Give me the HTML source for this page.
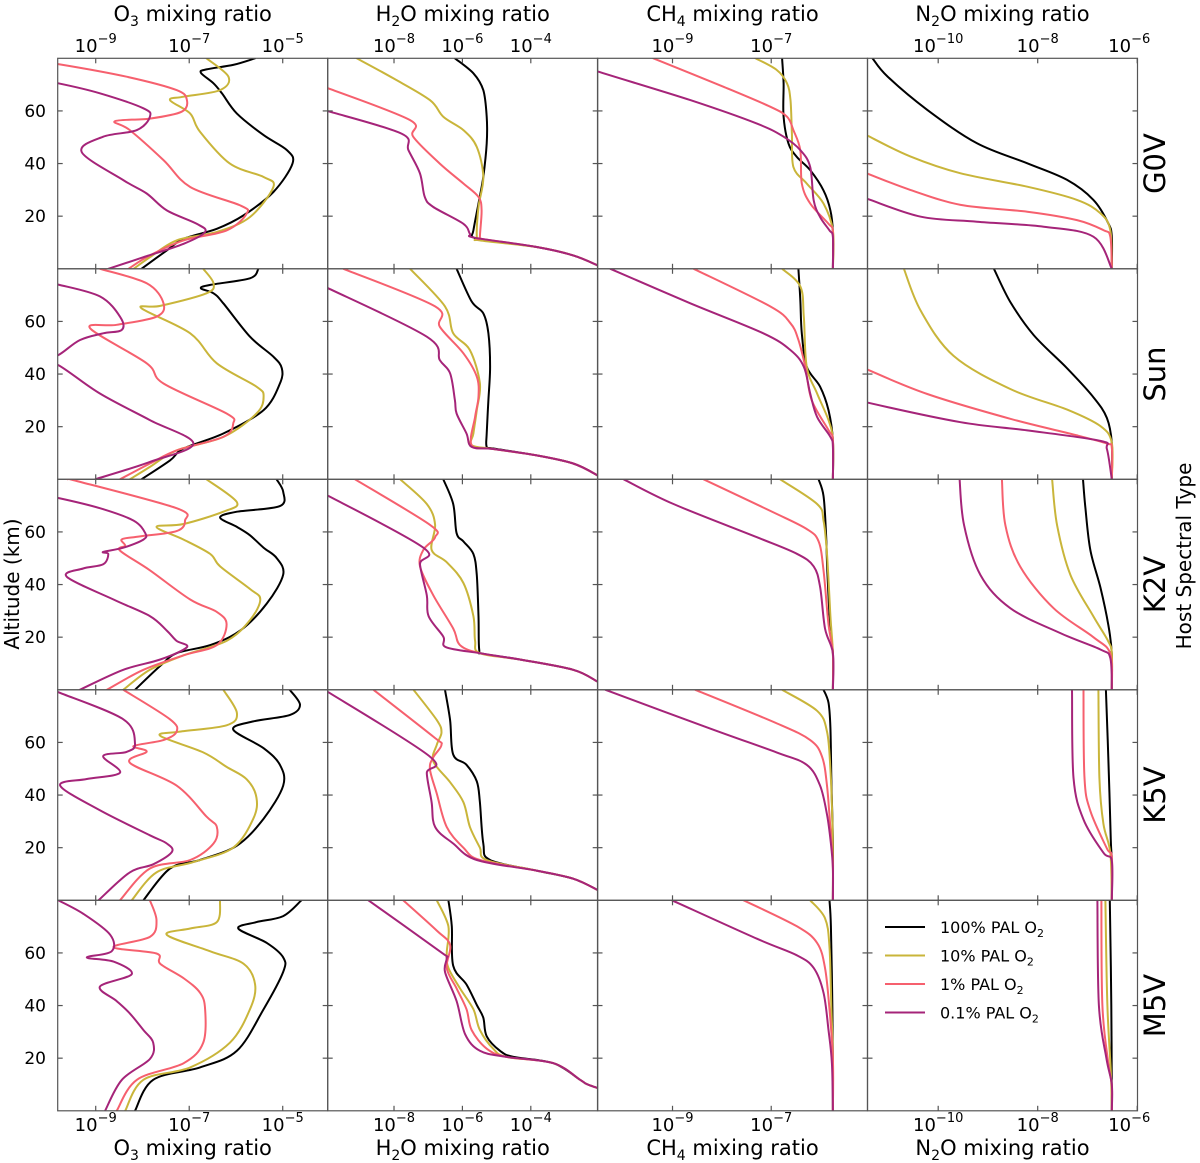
<!DOCTYPE html>
<html><head><meta charset="utf-8"><style>
html,body{margin:0;padding:0;background:#fff;width:1200px;height:1163px;overflow:hidden}
svg{display:block;font-family:"DejaVu Sans","Liberation Sans",sans-serif}
</style></head><body>
<svg id="fig" width="1200" height="1163" viewBox="0 0 1200 1163"></svg>
<script>
// ---- axis domains (log10 mixing ratio) ----
const speciesNames = ["O3","H2O","CH4","N2O"];
const speciesSub = [["O","3"],["H","2","O"],["CH","4"],["N","2","O"]];
const rowLabels = ["G0V","Sun","K2V","K5V","M5V"];
const seriesLabels = ["100% PAL O","10% PAL O","1% PAL O","0.1% PAL O"];
const xTicksO3 = [-9,-7,-5];
const xTicksH2O = [-8,-6,-4];
const xTicksCH4 = [-9,-7];
const xTicksN2O = [-10,-8,-6];
const yTicks = [20,40,60];

// ---- O3 data [log10 ratio, altitude km] ----
const o3_g0v_100 = [[-8.02,0],[-7.48,7],[-7.12,11.4],[-6.41,15.2],[-5.84,20.3],[-5.2,29.2],[-4.79,40],[-4.91,45.1],[-5.41,50.8],[-5.98,59],[-6.3,66.7],[-6.48,70.5],[-6.75,74.5],[-6.63,75.8],[-6.06,77.5],[-5.59,80]];
const o3_g0v_10 = [[-8.19,0],[-7.84,4.4],[-7.27,10.8],[-6.41,14],[-5.7,19.7],[-5.2,31.1],[-5.41,34.9],[-6.13,40],[-6.77,52.1],[-6.98,59],[-7.41,64.1],[-7.12,65.4],[-6.34,67.9],[-6.16,73],[-6.63,80]];
const o3_g0v_1 = [[-8.3,0],[-7.84,5.1],[-7.12,10.8],[-6.2,14.6],[-5.77,21],[-5.91,24.1],[-6.98,31.1],[-7.55,41.3],[-8.27,52.7],[-8.59,56.1],[-7.84,57.1],[-7.16,59.7],[-7.05,64.1],[-7.27,67.9],[-8.34,73],[-9.8,77.8],[-10.2,78.5]];
const o3_g0v_01 = [[-8.73,0],[-7.98,4.4],[-7.12,9.5],[-6.66,14],[-6.84,17.1],[-7.48,22.2],[-7.91,28.6],[-8.41,33.7],[-9.3,44.4],[-8.84,50.2],[-8.12,52.7],[-7.84,57.8],[-7.98,61],[-8.91,66.7],[-9.8,70.5],[-10.2,71.5]];
const o3_sun_100 = [[-8.02,0],[-7.41,7.2],[-7.12,11.7],[-6.27,17.4],[-5.41,26.3],[-5.06,36.4],[-5.02,42.2],[-5.2,46.6],[-5.7,54.2],[-6.27,66.9],[-6.48,70.7],[-6.75,72.6],[-6.55,73.9],[-5.7,76.4],[-5.52,80]];
const o3_sun_10 = [[-8.27,0],[-7.84,4.7],[-7.27,11],[-6.27,16.1],[-5.56,25],[-5.41,31.4],[-5.56,35.2],[-6.41,44.1],[-6.98,55.5],[-8.02,65],[-7.62,65.9],[-6.63,70.7],[-6.48,74.5],[-6.7,80]];
const o3_sun_1 = [[-8.48,0],[-7.84,6],[-7.27,11],[-6.27,16.1],[-6.06,21.2],[-6.2,25],[-7.55,36.4],[-7.91,44.1],[-9.12,57.4],[-8.55,58.7],[-7.7,61.8],[-7.55,66.9],[-7.91,74.5],[-8.91,80]];
const o3_sun_01 = [[-9.01,0],[-7.84,6.6],[-6.91,13.6],[-7.84,22.5],[-8.91,32.6],[-9.8,43.4],[-10.2,45],[-9.8,47.2],[-9.34,52.9],[-8.84,55.5],[-8.44,56.8],[-8.48,61.8],[-8.91,69.5],[-9.8,74],[-10.2,75.5]];
const o3_k2v_100 = [[-8.16,0],[-7.62,9.1],[-7.27,13.9],[-6.55,17],[-5.91,22.5],[-5.34,32.8],[-4.99,43.8],[-5.13,50.1],[-5.41,54],[-5.7,58.7],[-5.98,61.9],[-6.34,65.5],[-5.98,67.7],[-5.06,69.8],[-4.99,75.3],[-5.13,80]];
const o3_k2v_10 = [[-8.41,0],[-7.84,7.6],[-7.12,13.1],[-6.2,18.6],[-5.7,26.5],[-5.48,34.3],[-5.7,38.3],[-6.34,46.9],[-6.55,51.6],[-7.12,57.1],[-7.7,61.9],[-7.12,63],[-6.27,67.7],[-5.98,71.3],[-6.63,80]];
const o3_k2v_1 = [[-8.76,0],[-7.98,7.6],[-7.12,13.1],[-6.41,17],[-6.2,24.9],[-6.41,29.6],[-6.98,34.3],[-7.84,45.4],[-8.48,52.9],[-8.37,54.8],[-8.44,57.2],[-8.05,58.3],[-7.27,60.3],[-7.09,64.3],[-7.27,69],[-9.48,79.7],[-9.6,80]];
const o3_k2v_01 = [[-9.34,0],[-8.41,7.6],[-7.62,11.5],[-7.05,16.2],[-7.27,18.6],[-7.48,22.5],[-7.84,28],[-8.62,34.3],[-9.62,43],[-9.27,46.1],[-8.84,47.7],[-8.73,51.6],[-8.84,52.4],[-8.41,54],[-7.98,57.1],[-7.94,59.5],[-8.19,64.3],[-8.91,69],[-9.8,72.9],[-10.2,74]];
const o3_k5v_100 = [[-7.98,0],[-7.41,12.1],[-6.77,15.3],[-5.98,20.8],[-5.41,31],[-4.99,43.6],[-5.06,51.5],[-5.41,57.8],[-6.06,64.9],[-5.63,68],[-4.85,70.4],[-4.63,74.3],[-4.85,80]];
const o3_k5v_10 = [[-8.23,0],[-7.7,10.6],[-6.91,14.5],[-6.06,20],[-5.63,31],[-5.56,38.9],[-5.77,46],[-6.2,50.7],[-6.7,56.2],[-7.62,62.5],[-7.2,64.1],[-6.2,66.5],[-5.98,71.2],[-6.27,80]];
const o3_k5v_1 = [[-8.48,0],[-7.84,12.1],[-6.98,15.3],[-6.48,21.6],[-6.41,27.9],[-6.63,31.8],[-7.27,43.6],[-8.27,52.3],[-7.91,56.5],[-8.19,58.6],[-7.55,60.9],[-7.27,64.1],[-7.41,68.8],[-8.41,80]];
const o3_k5v_01 = [[-8.94,0],[-8.27,10.6],[-7.77,13.7],[-7.37,18.4],[-7.48,21.6],[-7.84,24.7],[-8.91,34.2],[-9.76,43.6],[-9.19,46.1],[-8.48,48.5],[-8.84,54.8],[-8.34,56.4],[-8.16,59.5],[-8.41,68.8],[-9.8,79.1],[-9.9,80]];
const o3_m5v_100 = [[-8.16,0],[-7.77,11.8],[-6.77,16.5],[-5.98,22.8],[-5.41,38.6],[-4.99,52.8],[-4.99,58.3],[-5.34,63.8],[-5.95,69.3],[-5.56,71.7],[-4.99,74],[-4.6,80]];
const o3_m5v_10 = [[-8.37,0],[-7.98,11.8],[-6.98,16.5],[-6.13,25.9],[-5.7,38.6],[-5.59,48],[-5.84,55.9],[-6.55,60.6],[-7.48,66.9],[-6.98,69.3],[-6.41,71.7],[-6.34,80]];
const o3_m5v_1 = [[-8.55,0],[-8.12,11.8],[-7.12,18.1],[-6.7,25.9],[-6.66,38.6],[-6.77,44.9],[-7.12,50.4],[-7.62,55.9],[-7.7,59.8],[-8.62,62.2],[-7.84,66.1],[-7.7,72.4],[-7.84,80]];
const o3_m5v_01 = [[-8.8,0],[-8.44,11.8],[-7.84,19.7],[-7.77,25.9],[-7.98,30.7],[-8.27,37],[-8.55,41.7],[-8.91,47.2],[-8.23,51.9],[-8.62,56.7],[-9.19,58.3],[-8.66,60.6],[-8.69,66.9],[-9.26,74.8],[-9.8,80]];

// ---- H2O data ----
const h2o_g0v_100 = [[-6.22,80],[-5.68,74.3],[-5.39,67.9],[-5.29,57.8],[-5.29,47.6],[-5.39,34.9],[-5.53,24.8],[-5.68,14.6],[-5.7,12.1],[-5.29,10.8],[-3.83,8.3],[-2.76,5.1],[-2.05,1.3],[-1.9,0]];
const h2o_g0v_10 = [[-9.09,80],[-8.02,72.4],[-6.95,64.1],[-6.56,57.8],[-5.97,52.7],[-5.58,46.3],[-5.39,34.9],[-5.53,23.5],[-5.58,12.1],[-5.49,10.8],[-3.83,8.3],[-2.76,5.1],[-2.05,1.3],[-1.9,0]];
const h2o_g0v_1 = [[-10.2,70],[-9.92,68.6],[-7.53,56.5],[-7.44,50.2],[-6.66,40],[-5.97,32.4],[-5.53,27.3],[-5.44,22.2],[-5.49,12.1],[-5.44,11.4],[-3.83,8.3],[-2.76,5.1],[-2.05,1.3],[-1.9,0]];
const h2o_g0v_01 = [[-10.2,61],[-9.92,59.9],[-7.78,51.4],[-7.58,45.1],[-7.24,36.2],[-7.1,27.3],[-6.85,23.5],[-5.97,17.1],[-5.78,13.3],[-5.63,11.8],[-3.83,8.3],[-2.76,5.1],[-2.05,1.3],[-1.9,0]];
const h2o_sun_100 = [[-6.17,80],[-5.73,67.6],[-5.39,63.1],[-5.24,55.5],[-5.19,42.8],[-5.24,30.1],[-5.29,17.4],[-5.29,12.3],[-5.1,11.7],[-3.83,9.1],[-2.76,6],[-2.05,1.5],[-1.9,0]];
const h2o_sun_10 = [[-7.53,80],[-6.51,65.7],[-6.27,55.5],[-5.78,49.1],[-5.49,36.4],[-5.58,26.3],[-5.68,17.4],[-5.73,13],[-5.1,11.5],[-3.83,9.1],[-2.76,6],[-2.05,1.5],[-1.9,0]];
const h2o_sun_1 = [[-9.48,80],[-6.8,65.7],[-6.66,58],[-5.97,47.9],[-5.58,39],[-5.53,31.4],[-5.63,23.7],[-5.73,13],[-5.1,11.5],[-3.83,9.1],[-2.76,6],[-2.05,1.5],[-1.9,0]];
const h2o_sun_01 = [[-10.2,74],[-9.92,72.6],[-7.04,54.2],[-6.66,45.3],[-6.36,40.3],[-6.22,30.1],[-6.17,25],[-5.88,17.4],[-5.73,12.3],[-5.1,11.5],[-3.83,9.1],[-2.76,6],[-2.05,1.5],[-1.9,0]];
const h2o_k2v_100 = [[-6.56,80],[-6.27,70.6],[-6.17,59.5],[-5.97,56.4],[-5.68,51.6],[-5.58,43.6],[-5.53,27.9],[-5.51,15.3],[-5.39,13.7],[-4.32,11.5],[-2.76,7.6],[-2.05,3.1],[-1.9,2]];
const h2o_k2v_10 = [[-7.82,80],[-7.04,70.6],[-6.8,62.7],[-6.9,53.2],[-6.46,48.5],[-5.97,40.6],[-5.68,28],[-5.63,18.6],[-5.49,13.9],[-4.32,11.5],[-2.76,7.6],[-2.05,3.1],[-1.9,2]];
const h2o_k2v_1 = [[-9.14,80],[-6.95,62.7],[-6.8,58],[-7.14,53.2],[-7.24,46.9],[-6.85,35.9],[-6.27,23.3],[-6.07,17],[-5.49,13.9],[-4.32,11.5],[-2.76,7.6],[-2.05,3.1],[-1.9,2]];
const h2o_k2v_01 = [[-10.2,75],[-9.92,73.7],[-7.14,54],[-7.24,47.7],[-7.04,35.9],[-6.99,28],[-6.56,20.2],[-6.48,16.2],[-5.49,13.9],[-4.32,11.5],[-2.76,7.6],[-2.05,3.1],[-1.9,2]];
const h2o_k5v_100 = [[-6.51,80],[-6.36,68.5],[-6.27,55.4],[-5.88,51.5],[-5.58,45.2],[-5.49,37.3],[-5.39,21.6],[-5.19,15.3],[-3.83,11.3],[-2.76,8.2],[-2.05,3.9],[-1.9,2.5]];
const h2o_k5v_10 = [[-7.43,80],[-6.75,68.5],[-6.61,63.8],[-6.75,59.1],[-6.85,52.8],[-6.36,44.9],[-5.97,37.3],[-5.78,27.9],[-5.49,20],[-5.29,15.3],[-3.83,11.3],[-2.76,8.2],[-2.05,3.9],[-1.9,2.5]];
const h2o_k5v_1 = [[-8.6,80],[-6.85,62.2],[-6.61,59.1],[-6.85,54.4],[-6.95,49.9],[-6.75,40.5],[-6.46,27.9],[-5.97,20],[-5.49,15.3],[-3.83,11.3],[-2.76,8.2],[-2.05,3.9],[-1.9,2.5]];
const h2o_k5v_01 = [[-10.2,81],[-9.92,79.1],[-6.95,54.6],[-7.04,48.3],[-6.9,37.3],[-6.8,27.9],[-6.27,21.6],[-5.58,15.3],[-3.83,11.3],[-2.76,8.2],[-2.05,3.9],[-1.9,2.5]];
const h2o_m5v_100 = [[-6.41,80],[-6.31,70.1],[-6.27,55.1],[-5.88,48],[-5.58,40.2],[-5.39,35.4],[-5.29,28.3],[-4.9,22.8],[-4.51,20.5],[-3.34,18.1],[-2.56,11.8],[-2.37,10.2],[-2.05,8.7],[-1.9,8.3]];
const h2o_m5v_10 = [[-6.75,80],[-6.41,70.1],[-6.46,59.8],[-6.41,54.3],[-6.07,46.5],[-5.68,38.6],[-5.49,30.7],[-5.1,23.6],[-4.71,20.5],[-3.34,18.1],[-2.56,11.8],[-2.37,10.2],[-2.05,8.7],[-1.9,8.3]];
const h2o_m5v_1 = [[-7.73,80],[-6.75,68.5],[-6.36,63],[-6.46,54.3],[-6.17,46.5],[-5.88,38.6],[-5.73,30.7],[-5.29,23.6],[-4.71,20.5],[-3.34,18.1],[-2.56,11.8],[-2.37,10.2],[-2.05,8.7],[-1.9,8.3]];
const h2o_m5v_01 = [[-8.75,80],[-6.66,60.6],[-6.46,58.3],[-6.51,52.8],[-6.17,41.7],[-5.92,29.1],[-5.49,22.8],[-4.71,20.5],[-3.34,18.1],[-2.56,11.8],[-2.37,10.2],[-2.05,8.7],[-1.9,8.3]];

// ---- CH4 data ----
const ch4_g0v_100 = [[-6.78,80],[-6.75,70.5],[-6.75,57.8],[-6.65,47.6],[-6.48,42.5],[-6.21,37.5],[-5.94,29.8],[-5.8,22.2],[-5.75,14],[-5.75,0]];
const ch4_g0v_10 = [[-7.32,80],[-6.89,75.6],[-6.68,70.5],[-6.61,64.1],[-6.58,51.4],[-6.55,38.7],[-6.28,32.4],[-5.94,24.8],[-5.75,14.6],[-5.75,0]];
const ch4_g0v_1 = [[-9.39,80],[-7.97,69.2],[-7.02,61.6],[-6.68,57.8],[-6.55,52.7],[-6.41,45.1],[-6.38,32.4],[-6.21,24.8],[-5.84,17.1],[-5.75,14],[-5.75,0]];
const ch4_g0v_01 = [[-10.6,76],[-10.5,74.9],[-8.64,64.1],[-7.29,55.2],[-6.75,50.2],[-6.41,45.1],[-6.21,38.7],[-6.14,26],[-6.01,19.7],[-5.82,14.6],[-5.75,12.1],[-5.75,0]];
const ch4_sun_100 = [[-6.45,80],[-6.41,68.2],[-6.38,55.5],[-6.28,42.8],[-6.01,35.2],[-5.84,26.3],[-5.75,14.9],[-5.75,0]];
const ch4_sun_10 = [[-6.78,80],[-6.41,73.3],[-6.34,61.8],[-6.28,42.8],[-6.07,32.6],[-5.84,22.5],[-5.75,14.9],[-5.75,0]];
const ch4_sun_1 = [[-8.57,80],[-7.02,65.7],[-6.61,59.3],[-6.45,53],[-6.31,42.8],[-6.18,30.1],[-5.84,18.7],[-5.75,14.9],[-5.75,0]];
const ch4_sun_01 = [[-10.26,80],[-8.64,66.9],[-7.16,55.5],[-6.61,49.1],[-6.34,42.8],[-6.21,32.6],[-6.07,23.7],[-5.8,16.1],[-5.75,12.3],[-5.75,0]];
const ch4_k2v_100 = [[-6.04,80],[-5.94,73.7],[-5.89,59.5],[-5.86,43.8],[-5.8,23.3],[-5.75,13.9],[-5.75,0]];
const ch4_k2v_10 = [[-6.82,80],[-6.07,70.6],[-5.94,64.3],[-5.87,51.7],[-5.8,28],[-5.75,13.9],[-5.75,0]];
const ch4_k2v_1 = [[-8.37,80],[-6.95,67.4],[-6.28,61.1],[-6.04,56.4],[-5.94,45.4],[-5.84,24.9],[-5.75,13.9],[-5.75,0]];
const ch4_k2v_01 = [[-9.99,80],[-8.98,70.6],[-7.29,58],[-6.48,51.7],[-6.14,46.9],[-6.01,39.1],[-5.91,23.3],[-5.75,13.9],[-5.75,0]];
const ch4_k5v_100 = [[-5.94,80],[-5.84,75.1],[-5.8,65.7],[-5.78,45.2],[-5.75,21.6],[-5.75,0]];
const ch4_k5v_10 = [[-6.78,80],[-6.07,72],[-5.87,64.1],[-5.8,49.9],[-5.76,29.4],[-5.75,13.7],[-5.75,0]];
const ch4_k5v_1 = [[-8.54,80],[-6.88,67.2],[-6.21,60.9],[-5.97,54.6],[-5.87,43.6],[-5.79,24.7],[-5.75,13.7],[-5.75,0]];
const ch4_k5v_01 = [[-10.36,80],[-8.3,65.7],[-6.89,56.2],[-6.28,51.5],[-6.01,43.6],[-5.87,32.6],[-5.79,21.6],[-5.75,12.1],[-5.75,0]];
const ch4_m5v_100 = [[-5.82,80],[-5.79,70.1],[-5.76,38.6],[-5.75,15],[-5.75,0]];
const ch4_m5v_10 = [[-6.21,80],[-5.91,73.2],[-5.82,62.2],[-5.78,38.6],[-5.75,19.7],[-5.75,0]];
const ch4_m5v_1 = [[-7.56,80],[-6.48,70.1],[-6.07,63.8],[-5.91,54.3],[-5.82,38.6],[-5.75,19.7],[-5.75,0]];
const ch4_m5v_01 = [[-9.01,80],[-7.29,65.4],[-6.48,59.1],[-6.14,54.3],[-5.94,44.9],[-5.84,30.7],[-5.77,18.1],[-5.75,0]];

// ---- N2O data ----
const n2o_g0v_100 = [[-11.32,80],[-11.02,73.1],[-10.22,60.4],[-9.22,47.7],[-8.21,40.1],[-7.41,33.8],[-6.88,26.2],[-6.58,17.3],[-6.51,12.2],[-6.51,0]];
const n2o_g0v_10 = [[-11.5,51.5],[-11.41,50.5],[-10.56,42.7],[-9.55,36.3],[-8.21,31.2],[-7.21,26.2],[-6.74,21.1],[-6.54,14.7],[-6.51,0]];
const n2o_g0v_1 = [[-11.5,37],[-11.41,36.1],[-10.56,30],[-9.55,24.3],[-8.21,21.7],[-7.21,18.5],[-6.68,14.7],[-6.54,12.2],[-6.51,0]];
const n2o_g0v_01 = [[-11.5,27],[-11.41,26.5],[-10.35,19.8],[-9.22,17.9],[-7.88,16],[-6.88,12.2],[-6.51,0]];
const n2o_sun_100 = [[-8.88,80],[-8.55,67.4],[-8.08,54.8],[-7.41,42.2],[-6.88,31.2],[-6.61,23.3],[-6.51,13.9],[-6.51,0]];
const n2o_sun_10 = [[-10.69,80],[-10.35,64],[-9.69,46.9],[-8.55,34.3],[-7.41,26.5],[-6.74,20.2],[-6.51,13.9],[-6.51,0]];
const n2o_sun_1 = [[-11.5,42.5],[-11.41,41.6],[-10.22,32.4],[-8.55,23],[-7.21,16.7],[-6.61,13.6],[-6.51,12],[-6.51,0]];
const n2o_sun_01 = [[-11.5,30],[-11.41,29.1],[-9.55,21.7],[-8.21,18.6],[-6.74,14.6],[-6.61,11.5],[-6.51,0]];
const n2o_k2v_100 = [[-7.09,80],[-7.04,68.8],[-6.94,53],[-6.74,38.9],[-6.58,24.7],[-6.51,13.7],[-6.51,0]];
const n2o_k2v_10 = [[-7.71,80],[-7.61,62.5],[-7.34,43.6],[-6.88,27.9],[-6.58,18.4],[-6.51,13.7],[-6.51,0]];
const n2o_k2v_1 = [[-8.72,80],[-8.65,62.5],[-8.35,46.8],[-7.68,31],[-6.88,20],[-6.54,13.7],[-6.51,0]];
const n2o_k2v_01 = [[-9.57,80],[-9.48,62.5],[-9.15,43.6],[-8.55,31],[-7.55,21.6],[-6.74,15.3],[-6.54,12.1],[-6.51,0]];
const n2o_k5v_100 = [[-6.63,80],[-6.58,54.3],[-6.53,22.8],[-6.51,15],[-6.51,0]];
const n2o_k5v_10 = [[-6.78,80],[-6.76,46.5],[-6.68,29.1],[-6.54,18.1],[-6.51,0]];
const n2o_k5v_1 = [[-7.08,80],[-7.06,46.5],[-6.94,33.9],[-6.61,19.7],[-6.51,16.5],[-6.51,0]];
const n2o_k5v_01 = [[-7.31,80],[-7.28,46.5],[-7.08,30.7],[-6.68,18.1],[-6.51,15],[-6.51,0]];
const n2o_m5v_100 = [[-6.55,80],[-6.52,40],[-6.51,0]];
const n2o_m5v_10 = [[-6.64,80],[-6.6,40],[-6.53,15],[-6.51,0]];
const n2o_m5v_1 = [[-6.72,80],[-6.7,40],[-6.58,18],[-6.51,10],[-6.51,0]];
const n2o_m5v_01 = [[-6.8,80],[-6.77,40],[-6.62,20],[-6.51,10],[-6.51,0]];

const seriesColors = ["#000000","#c9b53a","#f6606e","#a52479"];
const panelSeries = [
 [[o3_g0v_100,o3_g0v_10,o3_g0v_1,o3_g0v_01],[h2o_g0v_100,h2o_g0v_10,h2o_g0v_1,h2o_g0v_01],[ch4_g0v_100,ch4_g0v_10,ch4_g0v_1,ch4_g0v_01],[n2o_g0v_100,n2o_g0v_10,n2o_g0v_1,n2o_g0v_01]],
 [[o3_sun_100,o3_sun_10,o3_sun_1,o3_sun_01],[h2o_sun_100,h2o_sun_10,h2o_sun_1,h2o_sun_01],[ch4_sun_100,ch4_sun_10,ch4_sun_1,ch4_sun_01],[n2o_sun_100,n2o_sun_10,n2o_sun_1,n2o_sun_01]],
 [[o3_k2v_100,o3_k2v_10,o3_k2v_1,o3_k2v_01],[h2o_k2v_100,h2o_k2v_10,h2o_k2v_1,h2o_k2v_01],[ch4_k2v_100,ch4_k2v_10,ch4_k2v_1,ch4_k2v_01],[n2o_k2v_100,n2o_k2v_10,n2o_k2v_1,n2o_k2v_01]],
 [[o3_k5v_100,o3_k5v_10,o3_k5v_1,o3_k5v_01],[h2o_k5v_100,h2o_k5v_10,h2o_k5v_1,h2o_k5v_01],[ch4_k5v_100,ch4_k5v_10,ch4_k5v_1,ch4_k5v_01],[n2o_k5v_100,n2o_k5v_10,n2o_k5v_1,n2o_k5v_01]],
 [[o3_m5v_100,o3_m5v_10,o3_m5v_1,o3_m5v_01],[h2o_m5v_100,h2o_m5v_10,h2o_m5v_1,h2o_m5v_01],[ch4_m5v_100,ch4_m5v_10,ch4_m5v_1,ch4_m5v_01],[n2o_m5v_100,n2o_m5v_10,n2o_m5v_1,n2o_m5v_01]]
];

// ---- layout ----
const NS = "http://www.w3.org/2000/svg";
const svg = document.getElementById("fig");
const colLeft = [57.7, 327.7, 597.5, 867.5];
const PW = 270, PH = 210.5, TOP = 58.3;
const xDom = [[-9.813,-4.038],[-9.939,-2.044],[-10.52,-5.049],[-11.421,-5.994]];
const xTickSets = [xTicksO3, xTicksH2O, xTicksCH4, xTicksN2O];
const yMax = 80;
function xScale(c, v){ return colLeft[c] + (v - xDom[c][0]) / (xDom[c][1] - xDom[c][0]) * PW; }
function yScale(r, a){ return TOP + PH*(r+1) - a / yMax * PH; }
function mk(tag, attrs, parent){ const e = document.createElementNS(NS, tag); for (const k in attrs) e.setAttribute(k, attrs[k]); (parent||svg).appendChild(e); return e; }
function smoothPath(P){
  if (P.length < 3) return "M" + P.map(p => p[0].toFixed(1)+","+p[1].toFixed(1)).join(" L");
  let d = "M" + P[0][0].toFixed(1) + "," + P[0][1].toFixed(1);
  for (let i = 0; i < P.length-1; i++) {
    const p0 = P[Math.max(0,i-1)], p1 = P[i], p2 = P[i+1], p3 = P[Math.min(P.length-1,i+2)];
    const c1x = p1[0] + (p2[0]-p0[0])/6, c1y = p1[1] + (p2[1]-p0[1])/6;
    const c2x = p2[0] - (p3[0]-p1[0])/6, c2y = p2[1] - (p3[1]-p1[1])/6;
    d += " C" + c1x.toFixed(1)+","+c1y.toFixed(1)+" "+c2x.toFixed(1)+","+c2y.toFixed(1)+" "+p2[0].toFixed(1)+","+p2[1].toFixed(1);
  }
  return d;
}

const defs = mk("defs", {});
for (let r = 0; r < 5; r++) {
  for (let c = 0; c < 4; c++) {
    const cp = mk("clipPath", {id: "cp"+r+"_"+c}, defs);
    mk("rect", {x: colLeft[c], y: TOP+PH*r, width: PW, height: PH}, cp);
    const g = mk("g", {"clip-path": "url(#cp"+r+"_"+c+")"});
    
    
    const ser = panelSeries[r][c];
    for (let s = 0; s < 4; s++) {
      const P = ser[s].map(p => [xScale(c, p[0]), yScale(r, p[1])]);
      const pl = mk("path", {d: smoothPath(P), fill: "none", stroke: seriesColors[s], "stroke-width": 2, "stroke-linejoin": "round", "stroke-linecap": "round"}, g);
      
      
    }
    const fr = mk("rect", {x: colLeft[c], y: TOP+PH*r, width: PW, height: PH, fill: "none", stroke: "#555", "stroke-width": 1.2});
    
    
    for (const t of xTickSets[c]) {
      const x = xScale(c, t);
      mk("line", {x1: x, x2: x, y1: TOP+PH*r, y2: TOP+PH*r+5, stroke: "#555", "stroke-width": 1.2});
      mk("line", {x1: x, x2: x, y1: TOP+PH*(r+1), y2: TOP+PH*(r+1)-5, stroke: "#555", "stroke-width": 1.2});
    }
    for (const t of yTicks) {
      const y = yScale(r, t);
      mk("line", {x1: colLeft[c], x2: colLeft[c]+5, y1: y, y2: y, stroke: "#555", "stroke-width": 1.2});
      mk("line", {x1: colLeft[c]+PW, x2: colLeft[c]+PW-5, y1: y, y2: y, stroke: "#555", "stroke-width": 1.2});
    }
  }
  for (const t of yTicks) {
    const tl = mk("text", {x: 46, y: yScale(r, t)+6, "text-anchor": "end", "font-size": 17});
    tl.textContent = t;
    
    
  }
  const rl = mk("text", {x: 0, y: 0, "text-anchor": "middle", "font-size": 29, transform: "translate(1165," + (TOP+PH*r+PH/2) + ") rotate(-90)"});
  rl.textContent = rowLabels[r];
  
  
}

function powLabel(x, y, e, name){
  const t = mk("text", {x: x, y: y, "text-anchor": "middle", "font-size": 18});
  const a = mk("tspan", {}, t); a.textContent = "10";
  const b = mk("tspan", {dy: -9, "font-size": 13}, t); b.textContent = "\u2212" + (-e);
  
  
}
function title(x, y, c, name){
  const t = mk("text", {x: x, y: y, "text-anchor": "middle", "font-size": 21});
  const parts = speciesSub[c];
  for (let i = 0; i < parts.length; i++) {
    const sp = mk("tspan", {}, t);
    sp.textContent = parts[i];
    if (i === 1) { sp.setAttribute("font-size", 14); sp.setAttribute("dy", 5); }
    if (i === 2) { sp.setAttribute("dy", -5); }
  }
  const rest = mk("tspan", {}, t);
  if (parts.length === 2) rest.setAttribute("dy", -5);
  rest.textContent = " mixing ratio";
  
  
}
for (let c = 0; c < 4; c++) {
  const cx = colLeft[c] + PW/2;
  title(cx, 21, c, 'top-title-' + speciesNames[c].toLowerCase());
  title(cx, 1155, c, 'bottom-title-' + speciesNames[c].toLowerCase());
  for (const t of xTickSets[c]) {
    let x = xScale(c, t);
    if (c === 3 && t === -6) x -= 8;
    powLabel(x, 52, t, 'top-x-tick-label');
    powLabel(x, 1131, t, 'bottom-x-tick-label');
  }
}
const yt = mk("text", {x: 0, y: 0, "text-anchor": "middle", "font-size": 20, transform: "translate(19,584) rotate(-90)"});
yt.textContent = "Altitude (km)";


const ht = mk("text", {x: 0, y: 0, "text-anchor": "middle", "font-size": 20, transform: "translate(1191,556) rotate(-90)"});
ht.textContent = "Host Spectral Type";



const lg = mk("g", {});


for (let s = 0; s < 4; s++) {
  const y = 927 + s*28.5;
  const ln = mk("line", {x1: 885, x2: 925, y1: y, y2: y, stroke: seriesColors[s], "stroke-width": 2}, lg);
  
  
  const t = mk("text", {x: 940, y: y+6, "font-size": 16}, lg);
  const a = mk("tspan", {}, t); a.textContent = seriesLabels[s];
  const b = mk("tspan", {dy: 4, "font-size": 11}, t); b.textContent = "2";
  
  
}
</script>
</body></html>
